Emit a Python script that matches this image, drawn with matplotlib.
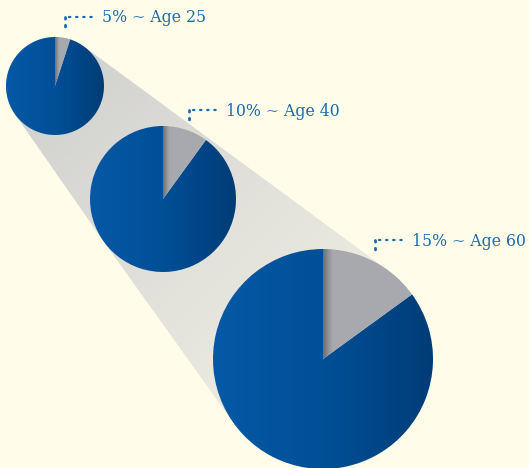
import numpy as np
import matplotlib
matplotlib.use("Agg")
from matplotlib import pyplot as plt
from matplotlib.colors import LinearSegmentedColormap
from matplotlib.patches import Polygon

# data
shares = [5, 10, 15]          # percent
ages = [25, 40, 60]
labels = [f"{s}% ~ Age {a}" for s, a in zip(shares, ages)]

# layout (pixels, y measured from bottom)
W, H = 529, 468
centers = [(55, H - 86), (163, H - 199), (323, H - 359)]
radii = [49, 73, 110]
label_pos = [(65, H - 17), (189, H - 110), (375, H - 240)]

bg = "#fffdea"
txt_color = "#1a6aad"

fig = plt.figure(figsize=(W / 100, H / 100), dpi=100, facecolor=bg)
ax = fig.add_axes([0, 0, 1, 1])
ax.set_xlim(0, W)
ax.set_ylim(0, H)
ax.set_aspect("equal")
ax.axis("off")
ax.set_facecolor(bg)

# cone behind the pies: convex hull of the three circles
pts = []
for (cx, cy), r in zip(centers, radii):
    t = np.linspace(0, 2 * np.pi, 360, endpoint=False)
    pts += list(zip(cx + r * np.cos(t), cy + r * np.sin(t)))
pts = sorted(set(pts))

def cross(o, a, b):
    return (a[0] - o[0]) * (b[1] - o[1]) - (a[1] - o[1]) * (b[0] - o[0])

lower, upper = [], []
for p in pts:
    while len(lower) >= 2 and cross(lower[-2], lower[-1], p) <= 0:
        lower.pop()
    lower.append(p)
for p in reversed(pts):
    while len(upper) >= 2 and cross(upper[-2], upper[-1], p) <= 0:
        upper.pop()
    upper.append(p)
hull = lower[:-1] + upper[:-1]

cone = Polygon(hull, closed=True, facecolor="none", edgecolor="none")
ax.add_patch(cone)
yy, xx = np.mgrid[0:H, 0:W]
(x0, y0), (x1, y1) = centers[0], centers[2]
d = np.array([x1 - x0, y1 - y0], dtype=float)
proj = ((xx - x0) * d[0] + (yy - y0) * d[1]) / (d @ d)
cone_cmap = LinearSegmentedColormap.from_list("cone", ["#d2d2d0", "#e0dfd9", "#eeede2"])
im = ax.imshow(np.clip(proj, 0, 1), cmap=cone_cmap, vmin=0, vmax=1,
               extent=[0, W, 0, H], origin="lower", zorder=1, interpolation="bilinear")
im.set_clip_path(cone)

blue_cmap = LinearSegmentedColormap.from_list("blue", ["#0659a6", "#004f97", "#003d77"])
grey_cmap = LinearSegmentedColormap.from_list("grey", ["#6c6c6e", "#8f8f93", "#a8a9ae"])

for share, (cx, cy), r in zip(shares, centers, radii):
    wedges, _ = ax.pie([share, 100 - share], center=(cx, cy), radius=r,
                       startangle=90, counterclock=False, frame=True,
                       wedgeprops=dict(facecolor="none", edgecolor="none"))
    ext = [cx - r, cx + r, cy - r, cy + r]
    gx = np.linspace(0, 1, 400)[None, :].repeat(2, axis=0)
    blue = ax.imshow(gx, cmap=blue_cmap, extent=ext, origin="lower",
                     zorder=3, interpolation="bilinear", aspect="auto")
    blue.set_clip_path(wedges[1])
    gg = np.clip((gx - 0.5) / 0.045, 0, 1)
    grey = ax.imshow(gg, cmap=grey_cmap, extent=ext, origin="lower",
                     zorder=3, interpolation="bilinear", aspect="auto")
    grey.set_clip_path(wedges[0])

ax.set_xlim(0, W)
ax.set_ylim(0, H)
ax.axis("off")

# labels with dotted leaders
for lab, (lx, ly) in zip(labels, label_pos):
    ax.plot([lx, lx], [ly, ly - 12], color=txt_color, lw=2, ls=(0, (0.6, 2.2)),
            dash_capstyle="round", zorder=4)
    ax.plot([lx + 4, lx + 32], [ly, ly], color=txt_color, lw=1.6, ls=(0, (0.6, 2.6)),
            dash_capstyle="round", zorder=4)
    ax.text(lx + 37, ly - 1, lab, color=txt_color, fontsize=11.3,
            family="DejaVu Serif", va="center", ha="left", zorder=4)

fig.savefig("out.png", dpi=100, facecolor=bg)
